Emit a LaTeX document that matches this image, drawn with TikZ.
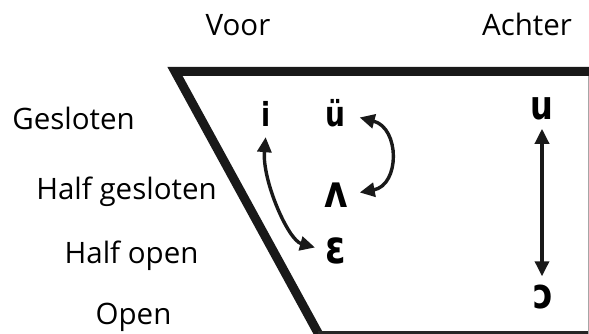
\documentclass[tikz,border=0pt]{standalone}
\usepackage{fontspec}
\setmainfont{Open Sans}
\newfontfamily\vowelfont{DejaVu Sans}[FakeStretch=0.8]
\usetikzlibrary{arrows.meta}
\begin{document}
\begin{tikzpicture}[x=1pt,y=-1pt,
  lbl/.style={anchor=base, inner sep=0pt, font=\fontsize{29.5}{29.5}\selectfont},
  vowel/.style={anchor=base, inner sep=0pt},
  dbl/.style={line width=3.4pt, color=black!90,
    {Triangle[length=15pt,width=14pt]}-{Triangle[length=15pt,width=14pt]}},
  frame/.style={line width=9pt, color=black!90, line join=miter}]
\useasboundingbox (0,0) rectangle (589,334);
\begin{scope}
\clip (0,0) rectangle (589,334);
\draw[frame] (319.7,336) -- (175,71.5) -- (595,71.5);
\draw[line width=2.5pt, color=black!85] (318,332.5) -- (595,332.5);
\draw[line width=1pt, color=black!35] (588,76) -- (588,334);
\end{scope}
% labels
\node[lbl] (voor) at (238,36) {Voor};
\node[lbl] (achter) at (527,36) {Achter};
\node[lbl] (gesl) at (73.5,130) {Gesloten};
\node[lbl] (hgesl) at (126.5,199) {Half gesloten};
\node[lbl] (hopen) at (131.5,263) {Half open};
\node[lbl] (open) at (133.5,324) {Open};
% vowels
\node[vowel, font=\vowelfont\bfseries\fontsize{33}{33}\selectfont] (vi) at (266.5,127) {i};
\node[vowel, font=\vowelfont\bfseries\fontsize{35}{35}\selectfont] (vue) at (335,127) {ü};
\node[vowel, font=\vowelfont\bfseries\fontsize{45}{45}\selectfont] (vua) at (336,207) {ʌ};
\node[vowel, font=\vowelfont\bfseries\fontsize{46}{46}\selectfont] (veps) at (336,263) {ɛ};
\node[vowel, font=\vowelfont\bfseries\fontsize{40}{40}\selectfont] (vu) at (542,120) {u};
\node[vowel, font=\vowelfont\bfseries\fontsize{42}{42}\selectfont] (vo) at (543,308) {ɔ};
% arrows
\draw[dbl, shorten <=10pt, shorten >=11pt] (vi.south) .. controls (262,180) and (288,240) .. (veps.west);
\draw[dbl, shorten <=15pt, shorten >=12pt] (vue.east) .. controls (400,128) and (400,185) .. (vua.east);
\draw[dbl, shorten <=8pt, shorten >=8pt] (vu.south) -- (vu.south |- vo.north);
\end{tikzpicture}
\end{document}
